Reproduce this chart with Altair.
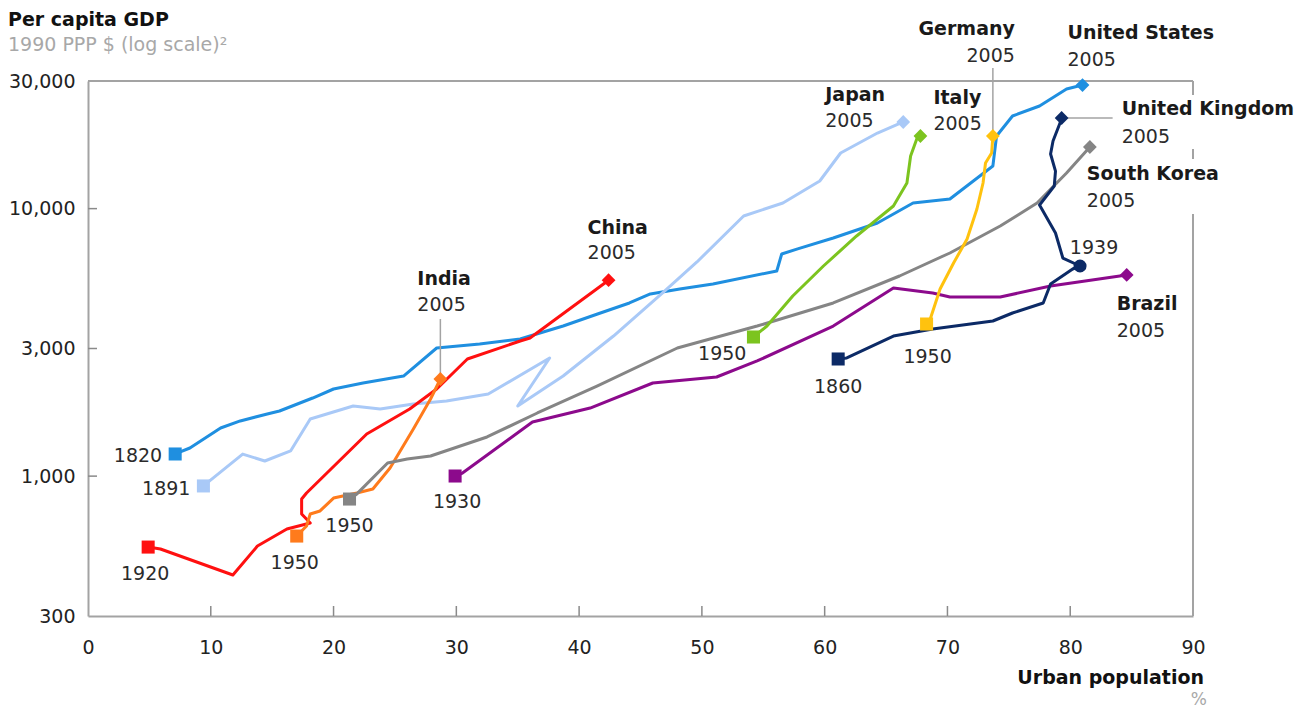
import altair as alt
import pandas as pd

# ---------------- data (urban population %, per capita GDP 1990 PPP $) ----------------
countries = ["United States", "Japan", "China", "India", "South Korea",
             "Brazil", "Germany", "Italy", "United Kingdom"]
colors = ["#1f8fe0", "#a9c9f7", "#ff1010", "#ff7b1c", "#858585",
          "#8c0a8c", "#ffc20e", "#7cc41f", "#0c2a66"]

us_urban = [7.1, 8.3, 10.8, 12.4, 14.6, 15.6, 18.3, 20.0, 22.4, 25.7, 28.4, 31.9, 35.2,
            36.0, 38.7, 41.5, 44.1, 45.8, 48.2, 50.9, 56.1, 56.5, 57.8, 60.7, 64.3, 67.2,
            70.2, 73.7, 74.0, 75.3, 77.5, 79.7, 81.0]
us_gdp = [1210, 1274, 1513, 1608, 1707, 1752, 1959, 2117, 2229, 2367, 3013, 3118, 3255,
          3340, 3640, 4038, 4439, 4796, 5006, 5226, 5847, 6767, 7068, 7767, 8839, 10495,
          10865, 14430, 18685, 22195, 24190, 28010, 28980]

japan_urban = [9.4, 12.6, 14.4, 16.5, 18.1, 21.6, 23.8, 26.5, 29.2, 32.6, 37.6, 35.0,
               38.7, 42.8, 46.8, 49.6, 53.4, 56.6, 59.6, 61.3, 64.3, 66.4]
japan_gdp = [919, 1209, 1139, 1242, 1635, 1829, 1782, 1860, 1909, 2028, 2765, 1829,
             2367, 3340, 4838, 6318, 9385, 10495, 12687, 16142, 19170, 21080]

china_urban = [4.9, 5.9, 11.8, 13.8, 16.2, 18.1, 17.4, 17.4, 17.8, 22.7, 26.2, 28.4,
               30.9, 35.2, 36.0, 42.4]
china_gdp = [543, 534, 427, 548, 634, 668, 722, 821, 865, 1437, 1782, 2117,
             2741, 3200, 3284, 5400]

india_urban = [17.0, 17.8, 18.1, 18.9, 20.0, 21.9, 23.2, 24.6, 26.5, 27.9, 28.7]
india_gdp = [597, 651, 722, 741, 828, 865, 895, 1072, 1500, 1943, 2307]

korea_urban = [21.3, 21.9, 24.4, 26.0, 27.9, 32.5, 36.6, 41.5, 48.0, 54.5, 60.7, 66.1,
               70.2, 74.3, 77.3, 79.7, 81.6]
korea_gdp = [821, 858, 1120, 1159, 1189, 1401, 1722, 2173, 3013, 3640, 4439, 5600,
             6826, 8610, 10495, 13590, 17000]

brazil_urban = [29.9, 30.5, 36.2, 40.9, 46.0, 51.2, 54.5, 60.7, 65.6, 68.8, 70.2, 74.3,
                78.4, 84.6]
brazil_gdp = [1001, 1027, 1594, 1797, 2229, 2347, 2695, 3640, 5050, 4838, 4674, 4674,
              5137, 5649]

germany_urban = [68.3, 68.6, 69.4, 70.5, 71.6, 72.4, 72.9, 73.1, 73.6, 73.7]
germany_gdp = [3704, 3867, 5006, 6263, 7700, 9968, 12470, 14810, 16142, 18685]

italy_urban = [54.2, 55.3, 57.4, 59.9, 62.6, 65.6, 66.7, 67.0, 67.5, 67.8]
italy_gdp = [3312, 3640, 4715, 6103, 7902, 10230, 12470, 15730, 18210, 18685]

uk_urban = [61.1, 61.8, 65.6, 68.8, 73.7, 75.3, 77.8, 78.4, 80.2, 80.8, 79.4, 78.8,
            77.5, 78.7, 78.8, 78.4, 78.6, 79.2, 79.3]
uk_gdp = [2741, 2765, 3340, 3548, 3801, 4072, 4439, 5226, 5948, 6103, 6537, 8108,
          10316, 12150, 13820, 16000, 17900, 21080, 21820]

series_urban = [us_urban, japan_urban, china_urban, india_urban, korea_urban,
                brazil_urban, germany_urban, italy_urban, uk_urban]
series_gdp = [us_gdp, japan_gdp, china_gdp, india_gdp, korea_gdp,
              brazil_gdp, germany_gdp, italy_gdp, uk_gdp]

start_years = ["1820", "1891", "1920", "1950", "1950", "1930", "1950", "1950", "1860"]
uk_1939_index = 9

y_ticks = [300, 1000, 3000, 10000, 30000]
x_ticks = [0, 10, 20, 30, 40, 50, 60, 70, 80, 90]
frame_right_segments = [(26600, 30000), (15330, 16700), (300, 9540)]

# ---------------- build tables ----------------
rows = []
for c, xs_, ys_ in zip(countries, series_urban, series_gdp):
    for i, (xv, yv) in enumerate(zip(xs_, ys_)):
        rows.append({"country": c, "order": i, "urban": xv, "gdp": yv})
df = pd.DataFrame(rows)

starts = pd.DataFrame([{"country": c, "urban": a[0], "gdp": b[0]}
                       for c, a, b in zip(countries, series_urban, series_gdp)])
ends = pd.DataFrame([{"country": c, "urban": a[-1], "gdp": b[-1]}
                     for c, a, b in zip(countries, series_urban, series_gdp)])
uk39 = pd.DataFrame([{"country": "United Kingdom", "urban": uk_urban[uk_1939_index],
                      "gdp": uk_gdp[uk_1939_index]}])

FONT = "DejaVu Sans"
W, H = 1105, 535

xs = alt.Scale(domain=[0, 90], nice=False, zero=False)
ys = alt.Scale(type="log", domain=[300, 30000], nice=False)
cs = alt.Scale(domain=countries, range=colors)

axis_style = dict(labelFont=FONT, labelFontSize=19, labelColor="#222222",
                  domainColor="#a3a3a3", domainWidth=2, ticks=False, grid=False,
                  labelFlush=False, labelOverlap=False)
x_axis = alt.Axis(values=x_ticks, labelPadding=22, **axis_style)
y_axis = alt.Axis(values=y_ticks, format=",d", labelPadding=13, **axis_style)

X = alt.X("urban:Q", scale=xs, title=None, axis=x_axis)
Y = alt.Y("gdp:Q", scale=ys, title=None, axis=y_axis)
C = alt.Color("country:N", scale=cs, legend=None)

lines = alt.Chart(df).mark_line(strokeWidth=3, strokeJoin="round").encode(
    x=X, y=Y, color=C, order="order:Q", detail="country:N")

start_pts = alt.Chart(starts).mark_point(shape="square", filled=True, size=170, opacity=1).encode(
    x=X, y=Y, color=C)
end_pts = alt.Chart(ends).mark_point(shape="diamond", filled=True, size=190, opacity=1).encode(
    x=X, y=Y, color=C)
uk_pt = alt.Chart(uk39).mark_point(shape="circle", filled=True, size=170, opacity=1).encode(
    x=X, y=Y, color=C)

# frame: top line, right border segments, inward ticks
top_df = pd.DataFrame({"urban": [0], "urban2": [90], "gdp": [30000]})
top_line = alt.Chart(top_df).mark_rule(color="#a3a3a3", strokeWidth=2).encode(
    x=X, x2="urban2:Q", y=Y)
right_df = pd.DataFrame({"urban": [90] * len(frame_right_segments),
                         "gdp": [s[0] for s in frame_right_segments],
                         "gdp2": [s[1] for s in frame_right_segments]})
right_line = alt.Chart(right_df).mark_rule(color="#a3a3a3", strokeWidth=2).encode(
    x=X, y=Y, y2="gdp2:Q")
ytick_df = pd.DataFrame({"gdp": y_ticks[1:-1]})
ytick_rules = alt.Chart(ytick_df).mark_rule(color="#8a8a8a", strokeWidth=1.5).encode(
    y=Y, x=alt.value(0), x2=alt.value(9))
xtick_df = pd.DataFrame({"urban": x_ticks[1:-1]})
xtick_rules = alt.Chart(xtick_df).mark_rule(color="#8a8a8a", strokeWidth=1.5).encode(
    x=X, y=alt.value(H), y2=alt.value(H - 10))

# leader lines
ci = {c: i for i, c in enumerate(countries)}
def end_of(c):
    i = ci[c]
    return series_urban[i][-1], series_gdp[i][-1]

lead_layers = []
for c, yoff in [("India", -60), ("Germany", -68)]:
    u, g = end_of(c)
    d = pd.DataFrame({"urban": [u], "gdp": [g]})
    lead_layers.append(alt.Chart(d).mark_rule(color="#a3a3a3", strokeWidth=1.5, y2Offset=yoff).encode(
        x=X, y=Y, y2="gdp:Q"))
u, g = end_of("United Kingdom")
d = pd.DataFrame({"urban": [u], "gdp": [g]})
lead_layers.append(alt.Chart(d).mark_rule(color="#a3a3a3", strokeWidth=1.5, x2Offset=51).encode(
    x=X, x2="urban:Q", y=Y))

# labels
text_layers = []
def add_text(u, g, txt, dx, dy, align, bold=False):
    d = pd.DataFrame({"urban": [u], "gdp": [g], "t": [txt]})
    text_layers.append(alt.Chart(d).mark_text(
        dx=dx, dy=dy, align=align, baseline="middle", font=FONT, fontSize=19,
        fontWeight="bold" if bold else "normal",
        color="#1a1a1a" if bold else "#2b2b2b").encode(x=X, y=Y, text="t:N"))

start_offsets = {
    "United States": (-13, 2, "right"),
    "Japan": (-13, 3, "right"),
    "China": (-3, 27, "center"),
    "India": (-2, 27, "center"),
    "South Korea": (0, 27, "center"),
    "Brazil": (2, 26, "center"),
    "Germany": (1, 33, "center"),
    "Italy": (-7, 17, "right"),
    "United Kingdom": (0, 28, "center"),
}
for c, yr in zip(countries, start_years):
    i = ci[c]
    dx, dy, al = start_offsets[c]
    add_text(series_urban[i][0], series_gdp[i][0], yr, dx, dy, al)

add_text(uk_urban[uk_1939_index], uk_gdp[uk_1939_index], "1939", 14, -18, "center")

end_offsets = {
    "China": (-21, -52, -27, "left"),
    "India": (-23, -100, -74, "left"),
    "Japan": (-78, -27, -1, "left"),
    "Italy": (13, -38, -12, "left"),
    "Germany": (22, -107, -80, "right"),
    "United States": (-15, -52, -25, "left"),
    "United Kingdom": (60, -9, 19, "left"),
    "South Korea": (-3, 27, 54, "left"),
    "Brazil": (-10, 29, 56, "left"),
}
for c in countries:
    u, g = end_of(c)
    dx, dyn, dyy, al = end_offsets[c]
    add_text(u, g, c, dx, dyn, al, bold=True)
    add_text(u, g, "2005", dx, dyy, al)

# titles
titles = [
    ("Per capita GDP", -80, -61, "left", "bold", "#111111", 19),
    ("1990 PPP $ (log scale)\u00b2", -80, -36, "left", "normal", "#a8a8a8", 19),
    ("Urban population", W + 11, H + 62, "right", "bold", "#111111", 19),
    ("%", W + 14, H + 84, "right", "normal", "#a8a8a8", 17),
]
title_layers = []
for t, px, py, al, fw, col, fs in titles:
    title_layers.append(alt.Chart(pd.DataFrame({"t": [t]})).mark_text(
        align=al, baseline="middle", font=FONT, fontSize=fs, fontWeight=fw, color=col).encode(
        x=alt.value(px), y=alt.value(py), text="t:N"))

chart = alt.layer(
    lines, top_line, right_line, ytick_rules, xtick_rules, *lead_layers,
    start_pts, end_pts, uk_pt, *text_layers, *title_layers
).properties(
    width=W, height=H, background="white",
    padding={"left": 80, "top": 73, "right": 109, "bottom": 95},
    autosize=alt.AutoSizeParams(type="none"),
).configure_view(stroke=None)

chart.save("out.html", embed_options={"renderer": "svg", "actions": False})
